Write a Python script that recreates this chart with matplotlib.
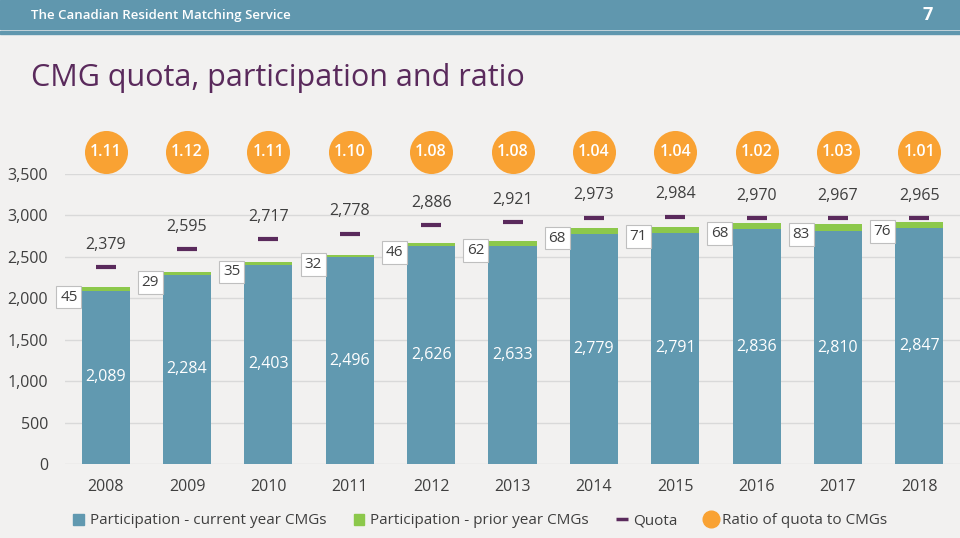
import matplotlib
matplotlib.use("Agg")
import matplotlib.pyplot as plt
from matplotlib.patches import Rectangle
from matplotlib.lines import Line2D
from matplotlib.ticker import FuncFormatter

plt.rcParams["font.family"] = ["Open Sans", "DejaVu Sans"]

years = ["2008", "2009", "2010", "2011", "2012", "2013", "2014", "2015", "2016", "2017", "2018"]
current_cmg = [2089, 2284, 2403, 2496, 2626, 2633, 2779, 2791, 2836, 2810, 2847]
prior_cmg = [45, 29, 35, 32, 46, 62, 68, 71, 68, 83, 76]
quota = [2379, 2595, 2717, 2778, 2886, 2921, 2973, 2984, 2970, 2967, 2965]
ratio = [1.11, 1.12, 1.11, 1.10, 1.08, 1.08, 1.04, 1.04, 1.02, 1.03, 1.01]

BG = "#F2F1F0"
BLUE = "#6199B0"
GREEN = "#8CC84B"
PURPLE = "#5A2A5C"
ORANGE = "#F9A233"
TXT = "#3F3F3F"

fig = plt.figure(figsize=(9.6, 5.38), dpi=100, facecolor=BG)

# header band
fig.patches.append(Rectangle((0, 1 - 29 / 538), 1, 29 / 538, transform=fig.transFigure,
                             color="#6097AE", zorder=0))
fig.patches.append(Rectangle((0, 1 - 34 / 538), 1, 3 / 538, transform=fig.transFigure,
                             color="#6097AE", zorder=0))
fig.text(31 / 960, 1 - 16 / 538, "The Canadian Resident Matching Service", color="white",
         fontsize=9.5, fontweight="semibold", va="center", ha="left")
fig.text(933 / 960, 1 - 15 / 538, "7", color="white", fontsize=13, fontweight="bold",
         va="center", ha="right")
fig.text(31 / 960, 1 - 78 / 538, "CMG quota, participation and ratio", color=PURPLE,
         fontsize=22, va="center", ha="left")

ax = fig.add_axes([65 / 960, 1 - 464 / 538, 895 / 960, 290 / 538])
ax.set_facecolor(BG)
x = list(range(len(years)))
w = 0.59

ax.bar(x, current_cmg, width=w, color=BLUE, zorder=2)
ax.bar(x, prior_cmg, width=w, bottom=current_cmg, color=GREEN, zorder=2)
ax.plot(x, quota, linestyle="none", marker="_", markersize=14, markeredgewidth=3,
        color=PURPLE, zorder=3)
ax.scatter(x, [3765] * len(x), s=960, color=ORANGE, clip_on=False, zorder=4, linewidths=0)

for i in x:
    ax.text(i, current_cmg[i] / 2, f"{current_cmg[i]:,}", color="white", fontsize=11.5,
            ha="center", va="center", zorder=5)
    ax.text(i, quota[i] + 270, f"{quota[i]:,}", color=TXT, fontsize=11.5,
            ha="center", va="center", zorder=5)
    top = current_cmg[i] + prior_cmg[i]
    ax.text(i - w / 2 - 0.05, top - 120, f"{prior_cmg[i]}", color=TXT, fontsize=11,
            ha="right", va="center", zorder=5,
            bbox=dict(boxstyle="square,pad=0.25", fc="white", ec="#BFBFBF", lw=0.8))
    ax.text(i, 3765, f"{ratio[i]:.2f}", color="white", fontsize=11.5, fontweight="semibold",
            ha="center", va="center", clip_on=False, zorder=5)

ax.set_xlim(-0.5, 10.5)
ax.set_ylim(0, 3500)
ax.set_yticks(range(0, 3501, 500))
ax.yaxis.set_major_formatter(FuncFormatter(lambda v, p: f"{int(v):,}"))
ax.set_xticks(x)
ax.set_xticklabels(years)
ax.tick_params(axis="both", length=0, labelsize=11.5, colors=TXT)
ax.tick_params(axis="x", pad=11)
ax.tick_params(axis="y", pad=12)
ax.grid(axis="y", color="#D9D9D9", linewidth=1, zorder=0)
for s in ax.spines.values():
    s.set_visible(False)

handles = [
    Rectangle((0, 0), 1, 1, color=BLUE),
    Rectangle((0, 0), 1, 1, color=GREEN),
    Line2D([], [], linestyle="none", marker="_", markersize=9, markeredgewidth=2.5, color=PURPLE),
    Line2D([], [], linestyle="none", marker="o", markersize=12, color=ORANGE),
]
labels = ["Participation - current year CMGs", "Participation - prior year CMGs",
          "Quota", "Ratio of quota to CMGs"]
fig.legend(handles, labels, loc="center", bbox_to_anchor=(0.5, 1 - 521 / 538), ncol=4,
           frameon=False, fontsize=11, handlelength=0.7, handleheight=0.7,
           handletextpad=0.4, columnspacing=1.8, labelcolor=TXT)

fig.savefig("out.png", dpi=100, facecolor=BG)
